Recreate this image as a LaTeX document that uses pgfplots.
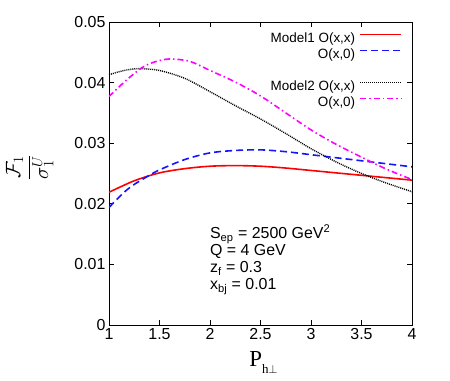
\documentclass[border=0pt]{standalone}
\usepackage{fontspec}
\setmainfont{Liberation Sans}
\newfontfamily\serif{Liberation Serif}
\usepackage{pgfplots}
\pgfplotsset{compat=1.18}
\definecolor{cred}{RGB}{255,0,0}
\definecolor{cblue}{RGB}{20,20,255}
\definecolor{cmag}{RGB}{255,0,255}
\begin{document}
\begin{tikzpicture}
\begin{axis}[
  scale only axis, width=303bp, height=303bp,
  xmin=1, xmax=4, ymin=0, ymax=0.05,
  xtick={1,1.5,2,2.5,3,3.5,4},
  ytick={0,0.01,0.02,0.03,0.04,0.05},
  xticklabels={1,1.5,2,2.5,3,3.5,4},
  yticklabels={0,0.01,0.02,0.03,0.04,0.05},
  scaled y ticks=false,
  tick align=inside, major tick length=5bp,
  ticklabel style={font=\fontsize{16}{19}\selectfont},
  /pgf/number format/assume math mode=true,
  axis line style={line width=0.8bp},
  every tick/.style={black, line width=0.8bp},
  xlabel={\fontsize{23}{26}\selectfont\serif P\raisebox{-7bp}{\fontsize{13}{15}\selectfont h$\perp$}},
  xlabel style={at={(axis description cs:0.51,-0.138)}, anchor=base},
  ylabel={\fontsize{20}{24}\selectfont$\displaystyle\frac{\mathcal{F}_1}{\sigma_1^{U}}$},
  ylabel style={at={(axis description cs:-0.262,0.52)}, anchor=center},
  legend plot pos=right,
  legend cell align=right,
  legend image code/.code={\draw[#1] (0bp,4.5bp) -- (41bp,4.5bp);},
  legend style={draw=none, fill=none, inner sep=0pt, at={(axis description cs:1,1)}, anchor=north east, xshift=-9.5bp, yshift=-9bp,
    font=\fontsize{13.5}{15}\selectfont, row sep=0pt, column sep=3bp,
    nodes={inner sep=1.5bp, text height=10bp, text depth=3bp}},
]
\addplot[cred, line width=1.6bp, smooth] coordinates {(1,0.0219)(1.25,0.0238)(1.5,0.0251)(1.75,0.0258)(2,0.0262)(2.25,0.0263)(2.5,0.0262)(2.75,0.0259)(3,0.0255)(3.25,0.0251)(3.5,0.0247)(3.75,0.0243)(4,0.0239)};
\addlegendentry{Model1 O(x,x)}
\addplot[cblue, line width=1.6bp, dash pattern=on 7bp off 4bp, smooth] coordinates {(1,0.0194)(1.15,0.0219)(1.25,0.0232)(1.4,0.0247)(1.5,0.0256)(1.75,0.0273)(2,0.0284)(2.25,0.0288)(2.5,0.0289)(2.75,0.0286)(3,0.0281)(3.25,0.0276)(3.5,0.0271)(3.75,0.0266)(4,0.0261)};
\addlegendentry{O(x,0)}
\addlegendimage{empty legend}
\addlegendentry{}
\addplot[black, line width=1.4bp, dash pattern=on 1bp off 1bp, smooth] coordinates {(1,0.0413)(1.15,0.0420)(1.3,0.0423)(1.5,0.0420)(1.75,0.0407)(2,0.0385)(2.25,0.0362)(2.5,0.0340)(2.75,0.0316)(3,0.0291)(3.25,0.0269)(3.5,0.0250)(3.75,0.0234)(4,0.0220)};
\addlegendentry{Model2 O(x,x)}
\addplot[cmag, line width=1.6bp, dash pattern=on 6bp off 3bp on 1.5bp off 3bp, smooth] coordinates {(1,0.0377)(1.1,0.0393)(1.2,0.0408)(1.33,0.0425)(1.45,0.0434)(1.6,0.0439)(1.8,0.0435)(2,0.0420)(2.25,0.0401)(2.5,0.0378)(2.75,0.0350)(3,0.0322)(3.25,0.0298)(3.5,0.0277)(3.75,0.0257)(4,0.0240)};
\addlegendentry{O(x,0)}
\begin{scope}[every node/.style={anchor=base west, inner sep=0pt, font=\fontsize{16}{18}\selectfont}]
\node at (axis description cs:0.333,0.284) {S\textsubscript{ep} = 2500 GeV\textsuperscript{2}};
\node at (axis description cs:0.333,0.228) {Q = 4 GeV};
\node at (axis description cs:0.333,0.172) {z\textsubscript{f} = 0.3};
\node at (axis description cs:0.333,0.116) {x\textsubscript{bj} = 0.01};
\end{scope}
\end{axis}
\pgfresetboundingbox
\path[use as bounding box] ([xshift=-109bp,yshift=-56bp]current axis.south west) rectangle ([xshift=38bp,yshift=22bp]current axis.north east);
\end{tikzpicture}
\end{document}
